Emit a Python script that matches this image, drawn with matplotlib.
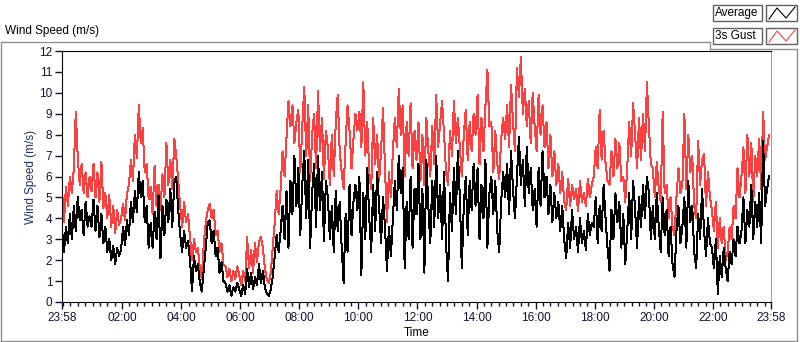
import numpy as np
import matplotlib
matplotlib.use('Agg')
import matplotlib.pyplot as plt
from matplotlib.lines import Line2D
from matplotlib.patches import Rectangle

# --- data: one row per hour from 23:58, one sample every 4 minutes ---
avg_rows = [
    [3.5, 2.4, 3.6, 2.8, 4.2, 3.0, 4.6, 3.4, 5.0, 3.9, 4.4, 3.2, 4.8, 3.6, 4.1],
    [3.6, 4.9, 3.4, 4.6, 3.1, 4.2, 2.8, 3.6, 2.4, 3.0, 2.0, 2.7, 1.8, 2.6, 2.2],
    [2.5, 3.6, 2.7, 3.9, 3.2, 4.8, 3.8, 5.3, 4.3, 6.2, 5.0, 5.8, 3.8, 4.6, 2.6],
    [3.8, 2.6, 4.3, 3.0, 5.1, 2.1, 4.6, 3.2, 4.9, 3.8, 5.4, 3.6, 5.7, 6.0, 4.4],
    [3.2, 2.4, 3.4, 2.6, 2.9, 2.0, 0.5, 2.2, 1.5, 1.8, 0.9, 0.5, 1.6, 2.6, 3.8],
    [3.9, 2.8, 3.4, 2.2, 2.6, 1.4, 1.9, 1.0, 0.9, 0.5, 0.8, 0.3, 0.7, 0.5, 0.9],
    [0.6, 0.3, 0.8, 0.4, 1.6, 0.7, 1.4, 0.6, 1.2, 0.8, 1.8, 0.9, 1.5, 0.7, 0.4],
    [0.3, 0.6, 1.2, 2.2, 3.2, 2.4, 3.4, 4.6, 3.0, 5.3, 2.6, 5.8, 4.2, 7.0, 4.6],
    [6.4, 3.2, 5.6, 7.2, 4.0, 6.8, 2.6, 5.2, 6.6, 3.6, 7.0, 4.4, 6.2, 2.9, 5.8],
    [5.0, 3.0, 4.6, 2.4, 5.3, 3.4, 4.8, 2.6, 0.9, 4.2, 2.4, 5.6, 3.2, 4.8, 5.6],
    [4.4, 6.0, 1.3, 5.2, 3.0, 6.4, 4.0, 2.4, 5.6, 3.4, 6.2, 4.6, 2.8, 5.0, 3.6],
    [1.5, 3.6, 2.2, 4.0, 5.8, 4.4, 7.0, 5.2, 6.4, 1.6, 4.8, 3.0, 6.0, 2.6, 5.4],
    [4.2, 6.6, 3.0, 5.4, 1.4, 6.8, 4.6, 2.8, 5.8, 3.6, 7.0, 4.0, 5.6, 3.0, 6.2],
    [2.8, 1.0, 5.2, 3.4, 6.4, 4.2, 7.2, 5.0, 1.6, 4.6, 6.0, 3.2, 5.8, 4.4, 6.6],
    [4.6, 6.4, 3.0, 5.6, 4.0, 6.8, 2.6, 5.2, 6.0, 4.2, 5.8, 3.4, 2.4, 4.8, 6.2],
    [5.0, 6.6, 4.2, 7.2, 5.4, 4.0, 6.0, 7.9, 5.6, 6.8, 4.6, 7.4, 5.2, 6.4, 4.4],
    [5.4, 3.6, 6.4, 4.6, 7.2, 5.0, 6.0, 4.2, 5.6, 3.8, 5.2, 4.0, 4.8, 3.4, 4.6],
    [3.0, 2.1, 3.8, 2.6, 4.4, 3.0, 3.6, 2.4, 4.0, 2.8, 3.4, 2.5, 4.2, 3.2, 3.8],
    [3.6, 5.0, 2.8, 4.6, 3.4, 5.6, 4.0, 2.6, 1.5, 4.4, 3.0, 5.2, 3.8, 4.8, 2.6],
    [4.2, 1.8, 3.4, 5.2, 3.0, 5.8, 4.4, 2.6, 5.0, 3.6, 5.6, 4.0, 6.0, 5.2, 3.0],
    [4.6, 3.0, 5.2, 3.6, 2.4, 5.0, 3.2, 4.4, 2.2, 3.6, 1.8, 1.2, 3.4, 4.6, 2.8],
    [3.6, 5.0, 2.6, 5.8, 3.8, 4.6, 2.4, 1.6, 4.2, 3.0, 5.4, 3.4, 2.2, 4.0, 2.8],
    [2.6, 1.6, 3.0, 0.4, 2.2, 1.2, 2.6, 1.6, 1.0, 2.4, 1.8, 3.0, 2.2, 3.6, 2.8],
    [3.4, 5.0, 2.8, 4.4, 3.6, 5.6, 3.0, 4.8, 3.6, 5.2, 2.8, 7.7, 4.6, 5.4, 6.0],
]
gust_rows = [
    [5.4, 3.8, 5.5, 4.6, 6.0, 5.2, 6.4, 9.1, 6.9, 5.6, 6.6, 5.2, 6.2, 5.0, 6.0],
    [5.3, 6.6, 5.0, 6.2, 4.8, 6.7, 4.5, 5.2, 4.0, 5.1, 3.6, 4.6, 3.3, 4.4, 3.7],
    [4.0, 4.7, 3.9, 5.2, 5.6, 6.8, 5.8, 8.0, 6.9, 9.4, 7.6, 8.3, 6.2, 6.6, 4.9],
    [5.5, 4.2, 6.5, 4.6, 5.6, 4.4, 6.1, 5.0, 7.6, 5.6, 6.8, 5.4, 7.8, 7.0, 5.8],
    [4.6, 3.6, 4.8, 3.8, 4.2, 3.1, 2.0, 3.0, 2.4, 2.6, 1.6, 1.1, 2.8, 3.8, 4.4],
    [4.7, 4.0, 4.4, 3.2, 3.4, 2.4, 2.8, 1.8, 1.7, 1.2, 1.6, 1.0, 1.5, 1.1, 1.7],
    [1.3, 0.8, 1.5, 1.0, 3.1, 1.6, 2.5, 1.4, 2.8, 1.9, 2.9, 3.1, 2.6, 1.6, 1.1],
    [0.9, 1.4, 2.6, 3.8, 5.3, 4.2, 5.4, 7.2, 6.0, 7.9, 9.6, 8.4, 9.4, 7.6, 8.6],
    [9.2, 6.2, 8.4, 10.3, 7.0, 9.4, 5.8, 8.0, 9.0, 6.4, 10.1, 7.2, 8.8, 5.9, 8.2],
    [7.4, 5.6, 8.0, 6.0, 8.6, 9.9, 7.2, 6.2, 5.4, 7.6, 9.4, 8.2, 6.4, 7.8, 9.0],
    [8.2, 9.1, 7.4, 10.5, 7.0, 8.6, 6.2, 5.4, 8.8, 6.6, 8.0, 5.8, 7.2, 9.3, 6.4],
    [3.8, 6.2, 5.0, 7.2, 8.8, 7.4, 10.2, 8.0, 9.4, 6.0, 8.6, 7.0, 9.5, 6.4, 8.2],
    [6.8, 8.6, 5.8, 8.0, 5.6, 8.8, 7.2, 6.0, 8.4, 6.6, 9.9, 7.4, 8.6, 9.6, 8.0],
    [6.2, 5.6, 8.2, 7.0, 9.6, 7.6, 8.8, 7.4, 6.0, 8.0, 9.2, 6.8, 8.6, 7.2, 9.0],
    [8.0, 9.9, 6.6, 8.8, 7.2, 9.4, 11.1, 8.4, 8.6, 6.2, 8.2, 6.6, 5.9, 7.8, 8.8],
    [7.8, 9.4, 7.4, 10.4, 8.6, 7.2, 11.2, 9.8, 11.7, 9.0, 10.2, 8.4, 9.6, 7.6, 10.0],
    [8.4, 7.2, 9.9, 8.0, 9.4, 7.4, 8.6, 6.4, 8.0, 6.0, 7.2, 5.6, 6.6, 5.2, 6.2],
    [4.8, 4.4, 5.9, 4.6, 5.6, 4.9, 5.4, 4.35, 5.8, 4.8, 5.2, 4.6, 5.9, 5.0, 5.6],
    [6.0, 7.4, 6.4, 9.2, 6.8, 8.2, 6.6, 5.8, 5.6, 7.2, 6.0, 7.8, 6.4, 7.6, 5.8],
    [6.0, 4.8, 6.4, 8.6, 7.0, 9.5, 8.0, 6.4, 8.8, 6.8, 9.0, 7.2, 10.5, 8.4, 6.6],
    [6.4, 5.0, 6.7, 5.4, 4.8, 9.1, 5.2, 5.6, 4.0, 5.0, 3.6, 3.2, 5.0, 6.4, 5.2],
    [5.6, 9.0, 5.4, 8.0, 6.2, 7.0, 4.6, 4.0, 7.7, 5.6, 6.8, 7.1, 4.6, 6.2, 5.0],
    [4.4, 3.4, 4.8, 2.6, 4.0, 2.8, 3.6, 2.0, 2.4, 3.6, 3.0, 4.6, 4.0, 6.4, 5.0],
    [6.0, 7.4, 5.2, 8.0, 6.0, 7.6, 4.8, 7.0, 6.0, 7.8, 5.4, 9.1, 6.8, 7.4, 8.0],
]
tick_minutes = [0, 122, 242, 362, 482, 602, 722, 842, 962, 1082, 1202, 1322, 1440]
tick_labels = ['23:58', '02:00', '04:00', '06:00', '08:00', '10:00', '12:00',
               '14:00', '16:00', '18:00', '20:00', '22:00', '23:58']

average = np.array(avg_rows).ravel()
gust = np.array(gust_rows).ravel()
minutes = np.arange(len(average)) * 4   # minutes after 23:58

W, H = 800, 342
def fx(x): return x / W
def fy(y): return 1 - y / H

plt.rcParams['font.family'] = ['Liberation Sans', 'DejaVu Sans']
fig = plt.figure(figsize=(W / 100, H / 100), dpi=100)
fig.patch.set_facecolor('white')

ax = fig.add_axes([fx(62), fy(302), (771 - 62) / W, (302 - 51) / H])
ax.plot(minutes, gust, color='#ff4040', lw=0.72, antialiased=False)
ax.plot(minutes, average, color='black', lw=0.72, antialiased=False)

ax.set_xlim(0, 1440)
ax.set_ylim(0, 12)
ax.set_yticks(range(0, 13))
ax.set_xticks(tick_minutes)
ax.set_xticklabels(tick_labels)
ax.set_xticks(np.arange(2, 1440, 15), minor=True)
ax.tick_params(axis='both', which='major', length=5, width=1, labelsize=8.5,
               colors='#111133', pad=2)
ax.tick_params(axis='x', which='minor', length=3, width=1, color='#111133')
ax.tick_params(axis='y', which='minor', left=False)
for s in ['top', 'left', 'bottom']:
    ax.spines[s].set_color('black')
ax.spines['right'].set_color('#a0a0a0')
ax.set_xlabel('Time', fontsize=8.5, labelpad=2)
ax.set_ylabel('Wind Speed (m/s)', fontsize=8.5, color='#1f2f6f')
ax.yaxis.set_label_coords(-25 / 709, 0.5)

# title above the chart frame
fig.text(fx(5), fy(31), 'Wind Speed (m/s)', fontsize=8.5, va='center', ha='left')

# outer gray frame of the graph panel
frame = '#909090'
for (x0, y0, x1, y1) in [(1, 42, 710, 42), (710, 42, 710, 49), (710, 49, 797, 49),
                         (797, 49, 797, 341), (1, 341, 797, 341), (1, 42, 1, 341)]:
    fig.add_artist(Line2D([fx(x0), fx(x1)], [fy(y0), fy(y1)], color=frame, lw=1))

# plot legend (boxes at the top right)
legend_items = [('Average', 'black', 5), ('3s Gust', '#ff4040', 28)]
for name, col, top in legend_items:
    fig.add_artist(Rectangle((fx(713), fy(top + 16)), 49 / W, 16 / H,
                             fc='white', ec='#606060', lw=1))
    fig.text(fx(715), fy(top + 8), name, fontsize=8.5, va='center', ha='left')
    fig.add_artist(Rectangle((fx(766), fy(top + 16)), 31 / W, 16 / H,
                             fc='white', ec='#606060', lw=1))
    fig.add_artist(Line2D([fx(769), fx(777), fx(786), fx(795)],
                          [fy(top + 14), fy(top + 3), fy(top + 13), fy(top + 2)],
                          color=col, lw=0.8))

fig.savefig('out.png', dpi=100)
